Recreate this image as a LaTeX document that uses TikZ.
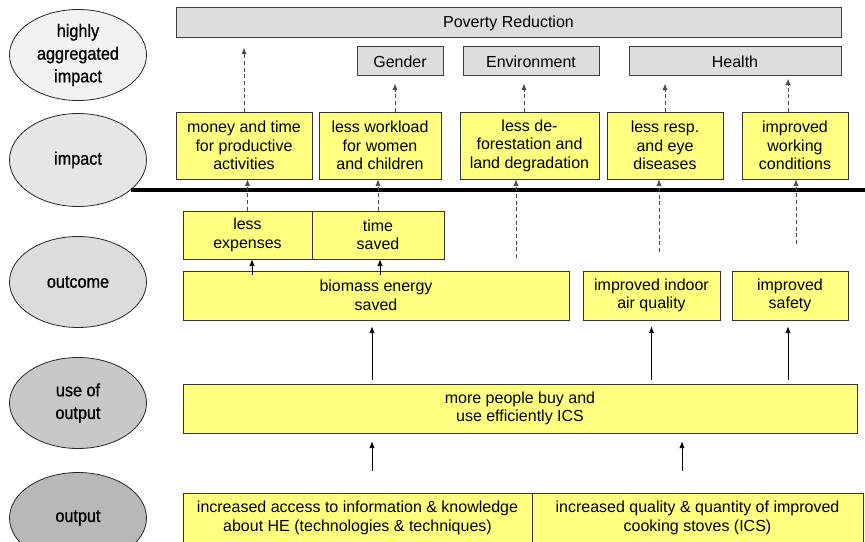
\documentclass[tikz,border=0pt]{standalone}
\usepackage{fontspec}
\setmainfont{Liberation Sans}
\newfontfamily\narrowfont[FakeStretch=0.9,FakeBold=0.8]{Liberation Sans}
\usetikzlibrary{arrows.meta,calc,shapes.geometric}
\definecolor{boxyellow}{HTML}{FFFF80}
\definecolor{boxgray}{HTML}{DDDDDD}
\definecolor{lvlA}{HTML}{F2F2F2}
\definecolor{lvlB}{HTML}{E6E6E6}
\definecolor{lvlC}{HTML}{DCDCDC}
\definecolor{lvlD}{HTML}{C8C8C8}
\definecolor{lvlE}{HTML}{B8B8B8}
\begin{document}
\begin{tikzpicture}[x=0.75pt,y=-0.75pt,
  sz/.style 2 args={minimum width=#1*0.75pt,minimum height=#2*0.75pt},
  level/.style={ellipse,draw=black!85,line width=0.6pt,inner sep=0pt,align=center,
    font=\narrowfont\fontsize{13.5}{17}\selectfont,sz={137}{91}},
  ybox/.style={draw=black!80,fill=boxyellow,line width=0.6pt,inner sep=0pt,align=center,
    font=\fontsize{12}{13.9}\selectfont},
  gbox/.style={draw=black!75,fill=boxgray,line width=0.75pt,inner sep=0pt,
    font=\fontsize{12}{14}\selectfont},
  arr/.style={-{Latex[length=5pt,width=4pt]},line width=0.6pt},
  darr/.style={arr,dash pattern=on 3pt off 2pt,draw=black!70}]
\useasboundingbox (0,0) rectangle (865,542);
% levels
\node[level,fill=lvlA] (hai) at (78,55) {highly\\aggregated\\impact};
\node[level,fill=lvlB,sz={137}{93}] (imp) at (78,160) {impact};
\node[level,fill=lvlC] (outc) at (78,282) {outcome};
\node[level,fill=lvlD] (useo) at (78,403) {use of\\output};
\node[level,fill=lvlE] (outp) at (78,518) {output};
% highly aggregated impact
\node[gbox,sz={665}{30}] (pov) at (508.5,23) {Poverty Reduction};
\node[gbox,sz={86}{29}] (gender) at (400,61.5) {Gender};
\node[gbox,sz={136}{29}] (env) at (531,61.5) {Environment};
\node[gbox,sz={212}{29}] (health) at (735,61.5) {Health};
% impact
\node[ybox,sz={136}{67}] (money) at (244,145.5) {money and time\\for productive\\activities};
\node[ybox,sz={122}{67}] (work) at (380,145.5) {less workload\\for women\\and children};
\node[ybox,sz={139}{67}] (defor) at (529.5,145.5) {less de-\\forestation and\\land degradation};
\node[ybox,sz={116}{67}] (resp) at (665,145.5) {less resp.\\and eye\\diseases};
\node[ybox,sz={106}{67}] (cond) at (795,145.5) {improved\\working\\conditions};
\draw[line width=3pt] (131,190) -- (865,190);
% outcome
\node[ybox,sz={129}{48}] (expen) at (247.5,235) {less\\expenses};
\node[ybox,sz={132}{48}] (time) at (378,235) {time\\saved};
\node[ybox,sz={386}{49}] (biomass) at (376,295.5) {biomass energy\\saved};
\node[ybox,sz={137}{49}] (air) at (651.5,295.5) {improved indoor\\air quality};
\node[ybox,sz={116}{49}] (safety) at (790,295.5) {improved\\safety};
% use of output, output
\node[ybox,sz={674}{49}] (use) at (520,408.5) {more people buy and\\use efficiently ICS};
\node[ybox,sz={349}{50}] (outl) at (357.5,518) {increased access to information \& knowledge\\about HE (technologies \& techniques)};
\node[ybox,sz={331}{50}] (outr) at (697.5,518) {increased quality \& quantity of improved\\cooking stoves (ICS)};
\coordinate (f1) at (516,258);
\coordinate (f2) at (659,252);
\coordinate (f3) at (796,244);
% dashed links
\draw[darr,shorten >=6.75pt] (money.north) -- (money.north |- pov.south);
\draw[darr,shorten >=5.25pt] ($(work.north)+(15,0)$) -- ($(gender.south)+(-5,0)$);
\draw[darr,shorten >=5.25pt] ($(defor.north)+(-5.5,0)$) -- ($(env.south)+(-7,0)$);
\draw[darr,shorten >=5.25pt] (resp.north) -- (resp.north |- health.south);
\draw[darr,shorten >=1.5pt] ($(cond.north)+(-7,0)$) -- ($(health.south)+(53,0)$);
\draw[darr] (expen.north) -- (expen.north |- money.south);
\draw[darr] (time.north) -- (time.north |- work.south);
\draw[darr] (f1) -- (f1 |- defor.south);
\draw[darr] (f2) -- (f2 |- resp.south);
\draw[darr] (f3) -- (f3 |- cond.south);
% solid links
\draw[arr] ($(biomass.north -| expen.south)+(4.5,4)$) -- ($(expen.south)+(4.5,0)$);
\draw[arr] ($(biomass.north -| time.south)+(2,4)$) -- ($(time.south)+(2,0)$);
\draw[arr,shorten >=4.5pt] ($(use.north -| biomass.south)+(-4,-4)$) -- ($(biomass.south)+(-4,0)$);
\draw[arr,shorten >=4.5pt] ($(use.north -| air.south)+(0,-4)$) -- (air.south);
\draw[arr,shorten >=4.5pt] ($(use.north -| safety.south)+(-2,-4)$) -- ($(safety.south)+(-2,0)$);
\draw[arr,shorten >=6pt] ($(outl.north)+(14.5,-22)$) -- ($(use.south -| outl.north)+(14.5,0)$);
\draw[arr,shorten >=6pt] ($(outr.north)+(-15.5,-22)$) -- ($(use.south -| outr.north)+(-15.5,0)$);
\end{tikzpicture}
\end{document}
